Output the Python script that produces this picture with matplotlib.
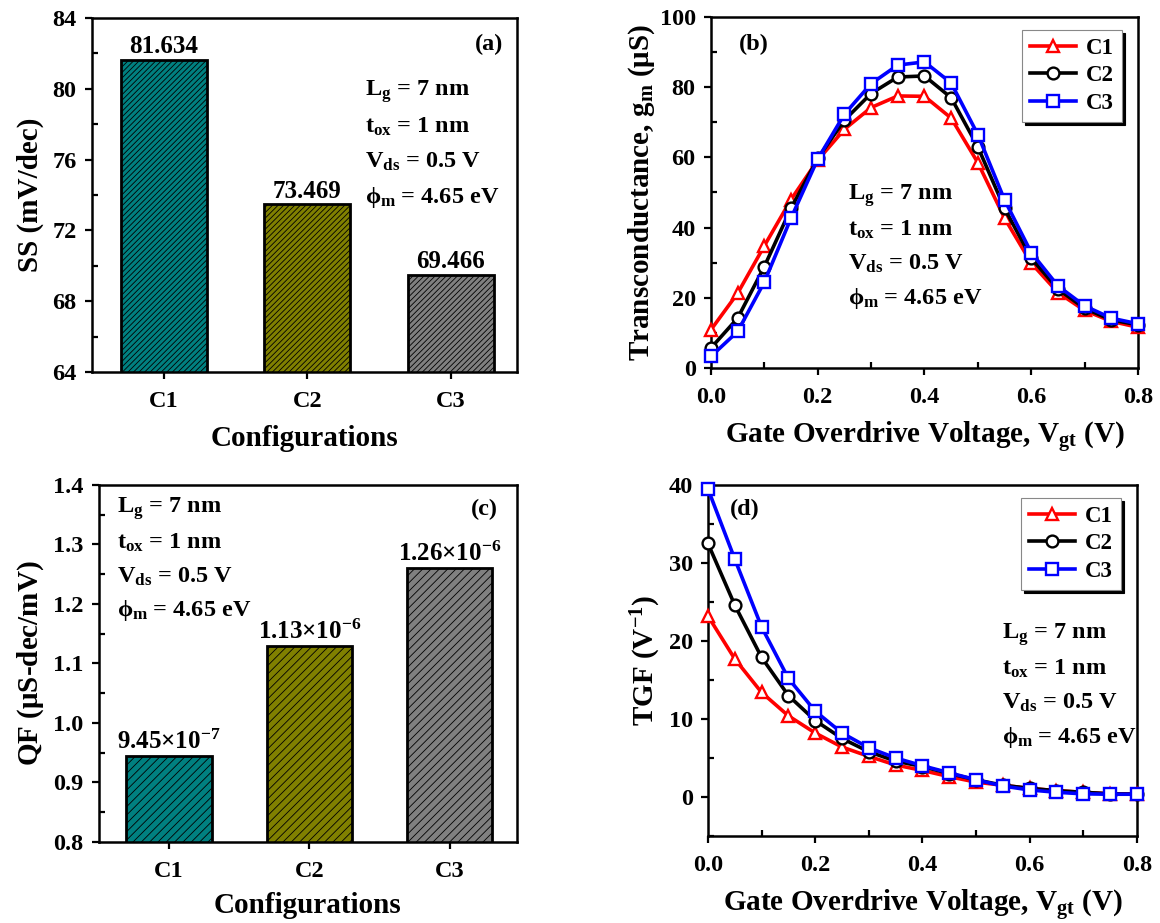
import numpy as np
import matplotlib
matplotlib.use("Agg")
import matplotlib.pyplot as plt
from matplotlib.ticker import MultipleLocator

plt.rcParams['font.family'] = ['Liberation Serif', 'DejaVu Serif']
plt.rcParams['font.weight'] = 'bold'
plt.rcParams['mathtext.fontset'] = 'custom'
plt.rcParams['mathtext.rm'] = 'Liberation Serif:bold'
plt.rcParams['mathtext.it'] = 'Liberation Serif:bold'
plt.rcParams['mathtext.bf'] = 'Liberation Serif:bold'
plt.rcParams['hatch.linewidth'] = 0.6

# bar data
configs = ['C1', 'C2', 'C3']
ss = [81.634, 73.469, 69.466]
ss_labels = ['81.634', '73.469', '69.466']
qf = [9.45e-7, 1.13e-6, 1.26e-6]
qf_labels = [r'9.45$\times$10$^{-7}$', r'1.13$\times$10$^{-6}$', r'1.26$\times$10$^{-6}$']
bar_colors = ['#008080', '#808000', '#808080']

# sweep data
vgt = [0.00, 0.05, 0.10, 0.15, 0.20, 0.25, 0.30, 0.35, 0.40,
       0.45, 0.50, 0.55, 0.60, 0.65, 0.70, 0.75, 0.80]
gm_c1 = [10.9, 21.3, 34.8, 48.0, 59.2, 68.0, 74.2, 77.5, 77.4,
         71.2, 58.5, 42.7, 29.9, 21.5, 16.4, 13.3, 11.6]
gm_c2 = [5.7, 14.2, 28.9, 45.5, 59.7, 70.6, 78.2, 82.9, 83.2,
         77.0, 63.0, 45.5, 31.3, 22.5, 17.0, 13.7, 12.3]
gm_c3 = [3.3, 10.4, 24.5, 42.7, 59.5, 72.3, 81.0, 86.3, 87.2,
         81.2, 66.5, 47.9, 32.9, 23.4, 17.7, 14.2, 12.6]
tgf_c1 = [23.2, 17.7, 13.4, 10.4, 8.2, 6.4, 5.2, 4.1, 3.4,
          2.6, 1.9, 1.5, 1.1, 0.8, 0.6, 0.4, 0.4]
tgf_c2 = [32.5, 24.6, 17.9, 13.0, 9.8, 7.5, 5.8, 4.6, 3.9,
          3.0, 2.2, 1.5, 1.1, 0.8, 0.6, 0.4, 0.35]
tgf_c3 = [39.5, 30.5, 21.8, 15.2, 11.0, 8.2, 6.3, 5.0, 4.0,
          3.1, 2.2, 1.4, 0.9, 0.6, 0.4, 0.35, 0.35]

params = [r'L$_\mathrm{g}$ = 7 nm', r't$_\mathrm{ox}$ = 1 nm',
          r'V$_\mathrm{ds}$ = 0.5 V', r'$\phi_\mathrm{m}$ = 4.65 eV']

fig = plt.figure(figsize=(11.6, 9.23), dpi=100)
ax_a = fig.add_axes([0.0793, 0.5970, 0.3664, 0.3835])
ax_b = fig.add_axes([0.6129, 0.6013, 0.3681, 0.3803])
ax_c = fig.add_axes([0.0853, 0.0878, 0.3603, 0.3868])
ax_d = fig.add_axes([0.6103, 0.0943, 0.3698, 0.3803])

LAB = 21
TXT = 17.5


def style(ax):
    for s in ax.spines.values():
        s.set_linewidth(1.8)
    ax.tick_params(which='major', direction='out', length=5, width=1.6,
                   labelsize=17.5)
    ax.tick_params(axis='x', which='major', pad=9)
    ax.tick_params(axis='y', which='major', pad=6)
    ax.tick_params(which='minor', direction='in', length=4, width=1.6)
    for lab in ax.get_xticklabels() + ax.get_yticklabels():
        lab.set_fontweight('bold')


def put_params(ax, x, y, dy):
    for i, t in enumerate(params):
        ax.text(x, y - i * dy, t, transform=ax.transAxes, fontsize=TXT,
                fontweight='bold', va='center', ha='left')


# (a) subthreshold swing
xs = np.arange(len(configs))
ax_a.bar(xs, ss, width=0.6, color=bar_colors, edgecolor='black',
         linewidth=2, hatch='//////')
for x, v, lab in zip(xs, ss, ss_labels):
    ax_a.text(x, v + 0.1, lab, ha='center', va='bottom', fontsize=18, fontweight='bold')
ax_a.set_ylim(64, 84)
ax_a.set_xlim(-0.5, 2.46)
ax_a.set_xticks(xs)
ax_a.set_xticklabels(configs)
ax_a.yaxis.set_major_locator(MultipleLocator(4))
ax_a.yaxis.set_minor_locator(MultipleLocator(2))
ax_a.set_ylabel('SS (mV/dec)', fontsize=LAB, fontweight='bold', labelpad=6)
ax_a.set_xlabel('Configurations', fontsize=LAB, fontweight='bold', labelpad=9)
ax_a.text(0.934, 0.926, '(a)', transform=ax_a.transAxes, ha='center', va='center',
          fontsize=TXT, fontweight='bold')
put_params(ax_a, 0.642, 0.791, 0.099)
style(ax_a)

# (c) quality factor
ax_c.bar(xs, qf, width=0.61, color=bar_colors, edgecolor='black',
         linewidth=2, hatch='////')
for x, v, lab in zip(xs, qf, qf_labels):
    ax_c.text(x, v + 0.003e-6, lab, ha='center', va='bottom', fontsize=18, fontweight='bold')
ax_c.set_ylim(0.8e-6, 1.4e-6)
ax_c.set_xlim(-0.5, 2.48)
ax_c.set_xticks(xs)
ax_c.set_xticklabels(configs)
ax_c.yaxis.set_major_locator(MultipleLocator(0.1e-6))
ax_c.yaxis.set_minor_locator(MultipleLocator(0.05e-6))
ax_c.yaxis.set_major_formatter(plt.FuncFormatter(lambda v, p: '%.1f' % (v * 1e6)))
ax_c.set_ylabel(r'QF ($\mu$S-dec/mV)', fontsize=LAB, fontweight='bold', labelpad=5)
ax_c.set_xlabel('Configurations', fontsize=LAB, fontweight='bold', labelpad=7)
ax_c.text(0.923, 0.93, '(c)', transform=ax_c.transAxes, ha='center', va='center',
          fontsize=TXT, fontweight='bold')
put_params(ax_c, 0.043, 0.933, 0.095)
style(ax_c)

# curves for (b) and (d)
series = [('C1', 'red', '^'), ('C2', 'black', 'o'), ('C3', 'blue', 's')]


def curves(ax, ys):
    for (name, col, mk), y in zip(series, ys):
        ax.plot(vgt, y, color=col, lw=2.6, marker=mk, ms=8.5, mfc='white',
                mec=col, mew=1.7, label=name, clip_on=False, zorder=3)
    leg = ax.legend(loc='upper right', fontsize=16.5, handlelength=2.0,
                    borderpad=0.35, labelspacing=0.28, handletextpad=0.45,
                    borderaxespad=0, fancybox=False, edgecolor='#888888',
                    framealpha=1, shadow={'color': 'black', 'alpha': 1},
                    bbox_to_anchor=(0.963, 0.963))
    leg.get_frame().set_linewidth(0.8)
    for t in leg.get_texts():
        t.set_fontweight('bold')
    ax.set_xlim(0, 0.8)
    ax.xaxis.set_major_locator(MultipleLocator(0.2))
    ax.xaxis.set_minor_locator(MultipleLocator(0.1))
    ax.set_xlabel(r'Gate Overdrive Voltage, V$_\mathrm{gt}$ (V)', fontsize=LAB,
                  fontweight='bold', labelpad=8)


# (b) transconductance
curves(ax_b, [gm_c1, gm_c2, gm_c3])
ax_b.set_ylim(0, 100)
ax_b.yaxis.set_major_locator(MultipleLocator(20))
ax_b.yaxis.set_minor_locator(MultipleLocator(10))
ax_b.set_ylabel(r'Transconductance, g$_\mathrm{m}$ ($\mu$S)', fontsize=LAB,
                fontweight='bold', labelpad=2)
ax_b.text(0.10, 0.923, '(b)', transform=ax_b.transAxes, ha='center', va='center',
          fontsize=TXT, fontweight='bold')
put_params(ax_b, 0.321, 0.49, 0.097)
style(ax_b)

# (d) transconductance generation factor
curves(ax_d, [tgf_c1, tgf_c2, tgf_c3])
ax_d.set_ylim(-5, 40)
ax_d.yaxis.set_major_locator(MultipleLocator(10))
ax_d.yaxis.set_minor_locator(MultipleLocator(5))
ax_d.set_ylabel(r'TGF (V$^{-1}$)', fontsize=LAB, fontweight='bold', labelpad=4)
ax_d.text(0.086, 0.929, '(d)', transform=ax_d.transAxes, ha='center', va='center',
          fontsize=TXT, fontweight='bold')
put_params(ax_d, 0.685, 0.575, 0.098)
style(ax_d)

fig.savefig('out.png', dpi=100)
